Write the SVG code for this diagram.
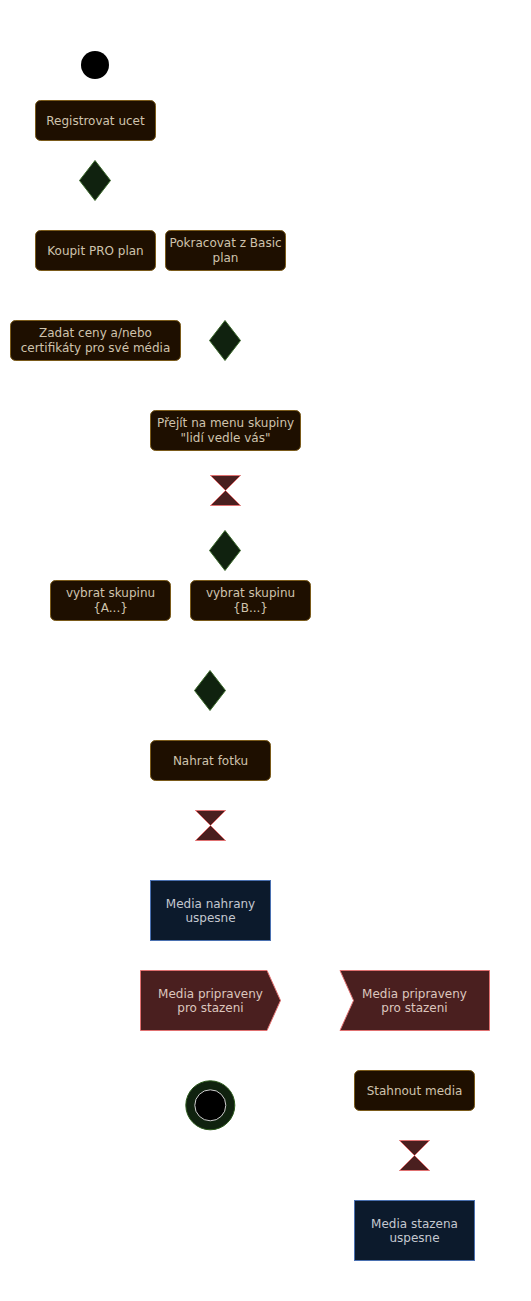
<svg xmlns="http://www.w3.org/2000/svg" width="531" height="1301" viewBox="0 0 531 1301">
<style>
text{font-family:"DejaVu Sans","Liberation Sans",sans-serif;font-size:12px;text-anchor:middle;}
.act{fill:#1e0f00;stroke:#7a5a1a;stroke-width:1;}
.act-t{fill:#cfc3ad;}
.dec{fill:#10220f;stroke:#3c6a2c;stroke-width:1;}
.hg{fill:#4a1f1f;stroke:#e07070;stroke-width:1;}
.obj{fill:#0c1a2c;stroke:#4a70b0;stroke-width:1;}
.obj-t{fill:#c4c8d0;}
.sig{fill:#4a1f1f;stroke:#e07070;stroke-width:1;}
.sig-t{fill:#dcc6be;}
</style>
<rect width="531" height="1301" fill="#ffffff"/>
<g id="connectors"></g>
<g id="start"><circle cx="95" cy="65" r="14" fill="#000"/></g>
<g id="registrovat"><rect class="act" x="35.5" y="100.5" width="120" height="40" rx="5"/><text class="act-t" x="95.5" y="124.8">Registrovat ucet</text></g>
<g id="decision1"><polygon class="dec" points="95,160.5 110.5,180.5 95,200.5 79.5,180.5"/></g>
<g id="koupit"><rect class="act" x="35.5" y="230.5" width="120" height="40" rx="5"/><text class="act-t" x="95.5" y="254.8">Koupit PRO plan</text></g>
<g id="pokracovat"><rect class="act" x="165.5" y="230.5" width="120" height="40" rx="5"/><text class="act-t" x="225.5" y="246.8">Pokracovat z Basic</text><text class="act-t" x="225.5" y="262.3">plan</text></g>
<g id="zadat"><rect class="act" x="10.5" y="320.5" width="170" height="40" rx="5"/><text class="act-t" x="95.5" y="336.8">Zadat ceny a/nebo</text><text class="act-t" x="95.5" y="352.3">certifikáty pro své média</text></g>
<g id="decision2"><polygon class="dec" points="225,320.5 240.5,340.5 225,360.5 209.5,340.5"/></g>
<g id="prejit"><rect class="act" x="150.5" y="410.5" width="150" height="40" rx="5"/><text class="act-t" x="225.5" y="426.8">Přejít na menu skupiny</text><text class="act-t" x="225.5" y="442.3">"lidí vedle vás"</text></g>
<g id="hourglass1"><path class="hg" d="M210.5,475.5 L240.5,475.5 L210.5,505.5 L240.5,505.5 Z"/></g>
<g id="decision3"><polygon class="dec" points="225,530.5 240.5,550.5 225,570.5 209.5,550.5"/></g>
<g id="vybratA"><rect class="act" x="50.5" y="580.5" width="120" height="40" rx="5"/><text class="act-t" x="110.5" y="596.8">vybrat skupinu</text><text class="act-t" x="110.5" y="612.3">{A...}</text></g>
<g id="vybratB"><rect class="act" x="190.5" y="580.5" width="120" height="40" rx="5"/><text class="act-t" x="250.5" y="596.8">vybrat skupinu</text><text class="act-t" x="250.5" y="612.3">{B...}</text></g>
<g id="decision4"><polygon class="dec" points="210,670.5 225.5,690.5 210,710.5 194.5,690.5"/></g>
<g id="nahrat"><rect class="act" x="150.5" y="740.5" width="120" height="40" rx="5"/><text class="act-t" x="210.5" y="764.8">Nahrat fotku</text></g>
<g id="hourglass2"><path class="hg" d="M195.5,810.5 L225.5,810.5 L195.5,840.5 L225.5,840.5 Z"/></g>
<g id="nahrany"><rect class="obj" x="150.5" y="880.5" width="120" height="60"/><text class="obj-t" x="210.5" y="907.8">Media nahrany</text><text class="obj-t" x="210.5" y="922.3">uspesne</text></g>
<g id="send"><polygon class="sig" points="140.5,970.5 267,970.5 280.5,1000.5 267,1030.5 140.5,1030.5"/><text class="sig-t" x="210.5" y="997.8">Media pripraveny</text><text class="sig-t" x="210.5" y="1012.3">pro stazeni</text></g>
<g id="receive"><polygon class="sig" points="340,970.5 489.5,970.5 489.5,1030.5 340,1030.5 353.5,1000.5"/><text class="sig-t" x="414.5" y="997.8">Media pripraveny</text><text class="sig-t" x="414.5" y="1012.3">pro stazeni</text></g>
<g id="final"><circle cx="210.3" cy="1105.3" r="24.5" fill="#10220f" stroke="#2c5a1c"/><circle cx="210.3" cy="1105.3" r="15.5" fill="#000" stroke="#d0d0d0"/></g>
<g id="stahnout"><rect class="act" x="354.5" y="1070.5" width="120" height="40" rx="5"/><text class="act-t" x="414.5" y="1094.8">Stahnout media</text></g>
<g id="hourglass3"><path class="hg" d="M399.5,1140.5 L429.5,1140.5 L399.5,1170.5 L429.5,1170.5 Z"/></g>
<g id="stazena"><rect class="obj" x="354.5" y="1200.5" width="120" height="60"/><text class="obj-t" x="414.5" y="1227.8">Media stazena</text><text class="obj-t" x="414.5" y="1242.3">uspesne</text></g>
</svg>
